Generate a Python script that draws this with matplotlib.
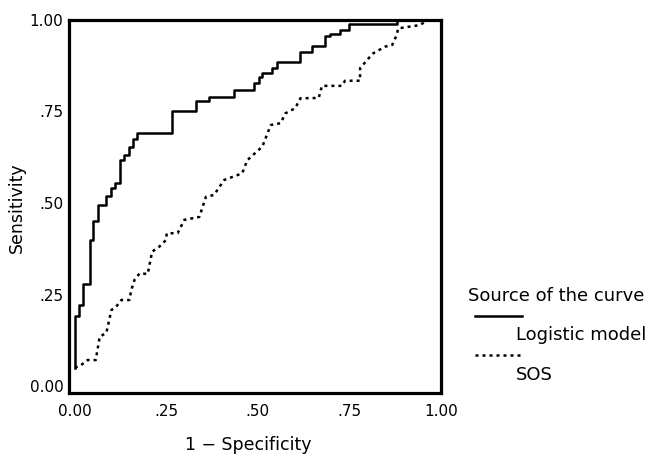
import matplotlib
matplotlib.use("Agg")
import matplotlib.pyplot as plt
from matplotlib.lines import Line2D

plt.rcParams['font.family'] = ['DejaVu Sans']

# ROC curve of the logistic model (step corners: x where sensitivity jumps, new sensitivity)
logit_fpr = [0.0, 0.0, 0.01, 0.023, 0.041, 0.05, 0.063, 0.086, 0.098, 0.11, 0.122, 0.134,
             0.147, 0.158, 0.17, 0.265, 0.33, 0.367, 0.435, 0.489, 0.503, 0.512, 0.538,
             0.552, 0.616, 0.648, 0.684, 0.698, 0.725, 0.749, 0.879, 1.0]
logit_tpr = [0.05, 0.19, 0.22, 0.28, 0.40, 0.45, 0.495, 0.52, 0.54, 0.555, 0.617, 0.63,
             0.653, 0.675, 0.69, 0.75, 0.78, 0.79, 0.81, 0.827, 0.843, 0.854, 0.868,
             0.886, 0.912, 0.929, 0.955, 0.963, 0.973, 0.989, 1.0, 1.0]

# ROC curve of SOS
sos_fpr = [0.0, 0.014, 0.035, 0.057, 0.068, 0.086, 0.10, 0.113, 0.127, 0.149, 0.154, 0.163,
           0.177, 0.199, 0.211, 0.231, 0.249, 0.251, 0.281, 0.299, 0.34, 0.358, 0.38, 0.408,
           0.457, 0.471, 0.512, 0.535, 0.562, 0.575, 0.602, 0.616, 0.666, 0.675, 0.729,
           0.738, 0.779, 0.779, 0.802, 0.815, 0.847, 0.867, 0.879, 0.883, 0.942, 0.965, 1.0]
sos_tpr = [0.05, 0.055, 0.071, 0.071, 0.135, 0.145, 0.208, 0.217, 0.235, 0.235, 0.262, 0.29,
           0.308, 0.306, 0.367, 0.381, 0.399, 0.417, 0.418, 0.454, 0.462, 0.517, 0.522, 0.563,
           0.581, 0.617, 0.654, 0.713, 0.718, 0.745, 0.759, 0.786, 0.787, 0.82, 0.82,
           0.834, 0.834, 0.868, 0.895, 0.909, 0.927, 0.932, 0.959, 0.977, 0.986, 1.0, 1.0]

ticks = [0.0, 0.25, 0.5, 0.75, 1.0]
tick_labels = ['0.00', '.25', '.50', '.75', '1.00']

fig = plt.figure(figsize=(6.49, 4.55), dpi=100)
ax = fig.add_axes([0.1063, 0.1363, 0.5732, 0.8198])

ax.plot(logit_fpr, logit_tpr, color='black', lw=1.8, drawstyle='steps-post')
ax.plot(sos_fpr, sos_tpr, color='black', lw=1.8, linestyle=(0, (1.2, 1.6)))

ax.set_xlim(-0.016, 1.0)
ax.set_ylim(-0.019, 1.0)
ax.set_xticks(ticks)
ax.set_xticklabels(tick_labels)
ax.set_yticks(ticks)
ax.set_yticklabels(tick_labels)
ax.tick_params(length=0, labelsize=11, pad=4)
ax.tick_params(axis='x', pad=8)
for s in ax.spines.values():
    s.set_linewidth(2.3)

W, H = 649.0, 455.0
# axis titles placed in figure coords so they sit where the reference has them
fig.text(17 / W, 1 - 208 / H, 'Sensitivity', fontsize=12.5, rotation=90,
         va='center', ha='center')
fig.text(248 / W, 1 - 445 / H, '1 \u2212 Specificity', fontsize=12.5,
         va='center', ha='center')

# legend drawn by hand
fig.text(468 / W, 1 - 296 / H, 'Source of the curve', fontsize=13, va='center', ha='left')
fig.add_artist(Line2D([475 / W, 522 / W], [1 - 316 / H, 1 - 316 / H], color='black',
                      lw=1.8, transform=fig.transFigure))
fig.text(516 / W, 1 - 335 / H, 'Logistic model', fontsize=13, va='center', ha='left')
fig.add_artist(Line2D([475 / W, 522 / W], [1 - 355 / H, 1 - 355 / H], color='black',
                      lw=1.8, linestyle=(0, (1.2, 1.6)), transform=fig.transFigure))
fig.text(516 / W, 1 - 375 / H, 'SOS', fontsize=13, va='center', ha='left')

fig.savefig('out.png', dpi=100)
